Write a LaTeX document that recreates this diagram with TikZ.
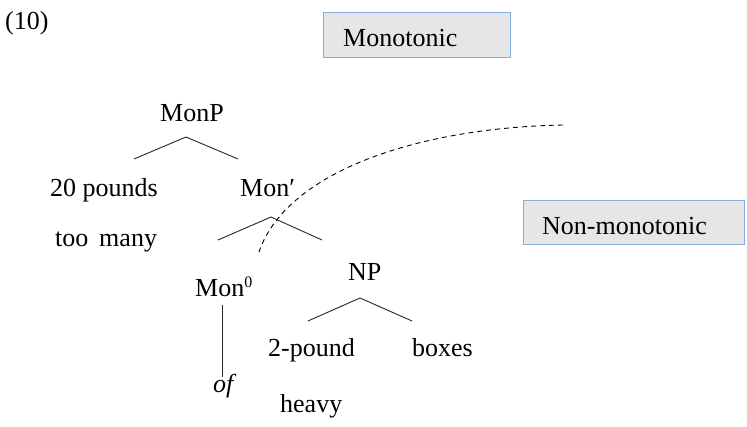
\documentclass[tikz,border=0pt]{standalone}
\usepackage{fontspec}
\setmainfont{Liberation Serif}
\definecolor{boxfill}{HTML}{E6E6E6}
\definecolor{boxline}{HTML}{82AEE0}
\begin{document}
\begin{tikzpicture}[x=1pt,y=-1pt,
  every node/.style={inner sep=0pt, font=\fontsize{26}{30}\selectfont},
  word/.style={anchor=base west},
  box/.style={draw=boxline, fill=boxfill, line width=1.3pt, anchor=north west},
  branch/.style={line width=0.9pt, draw=black!85}]
\useasboundingbox (0,0) rectangle (747,427);
% example number
\node[word] (num) at (5,30) {(10)};
% boxes
\node[box, minimum width=187pt, minimum height=45pt] (monobox) at (323,12) {};
\node[word] (monotxt) at (343,47) {Monotonic};
\node[box, minimum width=221pt, minimum height=44pt] (nonbox) at (523,200) {};
\node[word] (nontxt) at (542,235) {Non-monotonic};
% tree words
\node[word] (monp) at (160,122) {MonP};
\node[word] (spec1) at (50,197) {20 pounds};
\node[word] (spec2) at (55,247) {too\ \,many};
\node[word] (monbar) at (240,197) {Mon′};
\node[word] (mon0) at (195,297) {Mon\raisebox{9pt}{\fontsize{16}{16}\selectfont 0}};
\node[word] (of) at (213,393) {\textit{of}};
\node[word] (np) at (348,281) {NP};
\node[word] (pound) at (268,357) {2-pound};
\node[word] (boxes) at (412,357) {boxes};
\node[word] (heavy) at (280,413) {heavy};
% branch points
\coordinate (a1) at (186,137);
\coordinate (l1) at (134,159);
\coordinate (r1) at (238,159);
\coordinate (a2) at (271,217);
\coordinate (l2) at (218,240);
\coordinate (r2) at (322,240);
\coordinate (a3) at (360,298);
\coordinate (l3) at (308,321);
\coordinate (r3) at (412,321);
\coordinate (v1) at (222,305);
\coordinate (v2) at (222,377);
\draw[branch] (l1) -- (a1) -- (r1);
\draw[branch] (l2) -- (a2) -- (r2);
\draw[branch] (l3) -- (a3) -- (r3);
\draw[branch] (v1) -- (v2);
% dashed boundary
\coordinate (d1) at (563,125);
\coordinate (d2) at (259,252);
\draw[line width=0.9pt, dash pattern=on 5pt off 4pt] (d1) .. controls (410,128) and (285,175) .. (d2);
\end{tikzpicture}
\end{document}
